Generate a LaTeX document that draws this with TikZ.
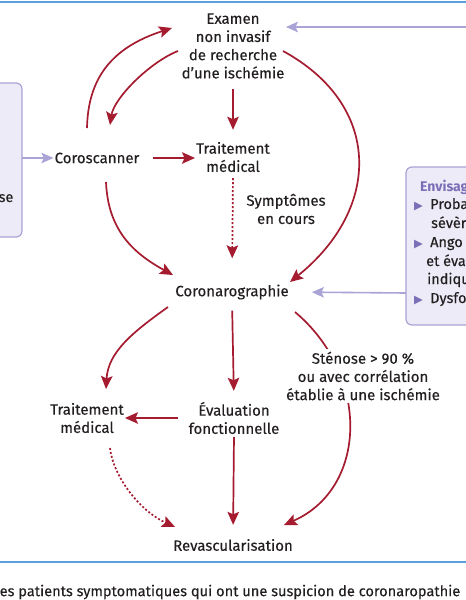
\documentclass[tikz,border=0pt]{standalone}
\usepackage{fontspec}
\setmainfont{Fira Sans}[UprightFeatures={FakeBold=0.25}]
\newfontfamily\dejavu{DejaVu Sans}
\usetikzlibrary{arrows.meta}
\definecolor{redarr}{HTML}{A51C30}
\definecolor{lav}{HTML}{A9A3D6}
\definecolor{lavfill}{HTML}{EDEBF7}
\definecolor{lavtxt}{HTML}{7B6EB6}
\definecolor{bluel}{HTML}{5B9FDC}
\definecolor{txt}{HTML}{231F20}
\begin{document}
\begin{tikzpicture}[x=1pt,y=-1pt,
  lbl/.style={align=center,font=\fontsize{15}{18.2}\selectfont,text=txt,inner sep=1pt},
  boxtxt/.style={anchor=base west,font=\fontsize{14.5}{17}\selectfont,text=txt,inner sep=0pt},
  redar/.style={draw=redarr,line width=1.7pt,-{Stealth[length=13pt,width=11.5pt,inset=2.5pt]}},
  dotar/.style={redar,dash pattern=on 2pt off 2pt},
  lavar/.style={draw=lav,line width=1.6pt,-{Stealth[length=12pt,width=10.5pt,inset=2.5pt]}},
  sidebox/.style={draw=lav,fill=lavfill,line width=1.2pt,rounded corners=6pt},
  rule/.style={draw=bluel,line width=2pt},
  tri/.style={font=\dejavu\fontsize{11.5}{12}\selectfont,text=lavtxt,inner sep=0pt,anchor=base west}
]
\useasboundingbox (0,0) rectangle (466,600);
\clip (0,0) rectangle (466,600);
\fill[white] (0,0) rectangle (466,600);

% rules
\draw[rule] (-5,2) -- (471,2);
\draw[rule] (-5,562) -- (471,562);

% side boxes
\draw[sidebox] (-20,83) rectangle (22,237);
\node[boxtxt] (lb) at (-1.5,202) {se};
\draw[sidebox] (406,167) rectangle (490,325);
\node[boxtxt,font=\bfseries\fontsize{14}{17}\selectfont,text=lavtxt] (rb0) at (420,191) {Envisag};
\node[tri] (t1) at (414,209) {▶};
\node[boxtxt] (rb1) at (430,209) {Proba};
\node[boxtxt] (rb2) at (431,228) {sévèr};
\node[tri] (t2) at (414,247) {▶};
\node[boxtxt] (rb3) at (430,247) {Ango};
\node[boxtxt] (rb4) at (426,266) {et éva};
\node[boxtxt] (rb5) at (427,284) {indiqu};
\node[tri] (t3) at (414,303) {▶};
\node[boxtxt] (rb6) at (430,303) {Dysfo};

% nodes
\node[lbl] (exam) at (233,46) {Examen\\non invasif\\de recherche\\d’une ischémie};
\node[lbl] (trt1) at (233,157) {Traitement\\médical};
\node[lbl] (coro) at (97,158) {Coroscanner};
\node[lbl] (sympt) at (286,209) {Symptômes\\en cours};
\node[lbl] (cgr) at (232,292) {Coronarographie};
\node[lbl] (trt2) at (87,418) {Traitement\\médical};
\node[lbl] (eval) at (234,418) {Évaluation\\fonctionnelle};
\node[lbl] (rev) at (233,545) {Revascularisation};
\node[lbl,anchor=west,align=left,font=\fontsize{14.6}{17}\selectfont] (cap) at (-1.5,592) {es patients symptomatiques qui ont une suspicion de coronaropathie};

% coordinates for connector ends
\coordinate (rin) at (470,27);
\coordinate (lin) at (22,158);
\coordinate (rbin) at (406,293);

% lavender arrows
\draw[lavar] (rin) -- (286,27);
\draw[lavar] (lin) -- (coro.west);
\draw[lavar,shorten >=22pt] (rbin) -- (cgr.east);

% red straight arrows
\draw[redar,shorten <=9pt,shorten >=11pt] (exam.south) -- (trt1.north);
\draw[redar,shorten <=12pt] (coro.east) -- (trt1.west |- coro.east);
\draw[dotar,shorten <=5pt,shorten >=25pt] (trt1.south) -- (cgr.north);
\draw[redar,shorten <=10pt,shorten >=10pt] (cgr.south) -- (eval.north);
\draw[redar,shorten <=9pt] (eval.west) -- (trt2.east |- eval.west);
\draw[redar,shorten <=2pt,shorten >=13pt] (eval.south) -- (rev.north);

% red arcs
\coordinate (a1s) at (87,128);
\coordinate (a1e) at (172,28);
\draw[redar] (a1s) .. controls (88,80) and (110,48) .. (a1e);
\coordinate (a2s) at (178,51);
\coordinate (a2e) at (110,125);
\draw[redar] (a2s) .. controls (150,62) and (114,98) .. (a2e);
\coordinate (a3s) at (283,51);
\coordinate (a3e) at (290,282);
\draw[redar] (a3s) .. controls (382,105) and (382,208) .. (a3e);
\coordinate (a4s) at (106,182);
\coordinate (a4e) at (173,275);
\draw[redar] (a4s) .. controls (108,230) and (133,253) .. (a4e);
\coordinate (a5s) at (168,307);
\coordinate (a5e) at (106,389);
\draw[redar] (a5s) .. controls (133,332) and (108,352) .. (a5e);
\coordinate (a6s) at (295,312);
\coordinate (a6e) at (284,525);
\draw[redar] (a6s) .. controls (370,375) and (368,488) .. (a6e);
\coordinate (a7s) at (110,448);
\coordinate (a7e) at (175,527);
\draw[dotar] (a7s) .. controls (113,475) and (138,510) .. (a7e);

\node[lbl,fill=white,inner sep=3pt] (sten) at (363,376) {Sténose > 90 \%\\ou avec corrélation\\établie à une ischémie};
\end{tikzpicture}
\end{document}
